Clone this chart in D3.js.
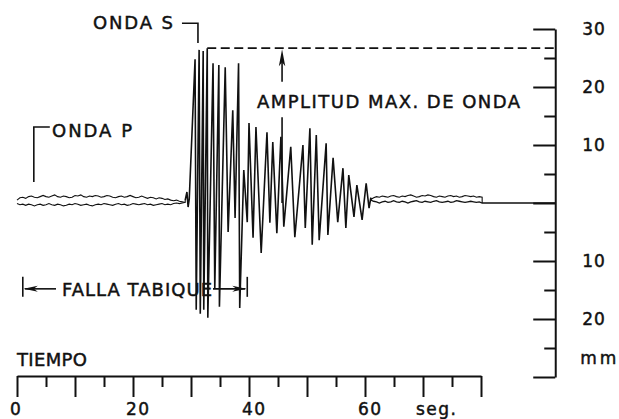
<!DOCTYPE html>
<html><head><meta charset="utf-8">
<script src="https://cdn.jsdelivr.net/npm/d3@7"></script>
<style>
body{margin:0;background:#fff}
svg{display:block}
text{font-family:"DejaVu Sans",sans-serif;fill:#111;stroke:#111;stroke-width:0.45px}
</style>
</head><body>
<svg id="c" width="619" height="419"></svg>
<script>
// ---------- DATA ----------
const ampTicksMajor = [30, 20, 10, 0, -10, -20, -30];
const ampTicksMinor = [25, 15, 5, -5, -15, -25];
const ampLabels = [30, 20, 10, -10, -20];
const timeTicksMajor = [0, 10, 20, 30, 40, 50, 60, 70, 80];
const timeTicksMinor = [5, 15, 25, 35, 45, 55, 65, 75];
const timeLabels = [0, 20, 40, 60, 70];           // 70 carries the unit "seg."
const timeLabelText = ["0", "20", "40", "60", "seg."];

// background noise before the S wave (mm), sampled evenly over preRange (s)
const preRange = [0, 29];
const preUpper = [0.5,0.9,1.0,0.8,1.1,1.2,1.0,0.9,1.1,1.3,1.1,1.0,1.2,1.4,1.1,1.0,1.2,1.1,0.9,1.0,
  1.3,1.2,1.4,1.1,1.0,1.2,1.1,1.3,1.2,1.0,1.1,1.3,1.2,1.0,0.9,1.1,1.2,1.0,1.1,1.3,
  1.1,0.9,1.0,1.2,1.0,0.8,1.0,0.9,0.7,0.9,0.8,0.6,0.7,0.5,0.4,0.5,0.3,0.2,0.1];
const preLower = [-0.1,-0.3,-0.2,-0.4,-0.2,-0.3,-0.5,-0.3,-0.2,-0.4,-0.3,-0.1,-0.3,-0.4,-0.2,-0.3,-0.5,-0.4,-0.2,-0.3,
  -0.1,-0.2,-0.4,-0.3,-0.2,-0.4,-0.5,-0.3,-0.2,-0.3,-0.1,-0.2,-0.3,-0.4,-0.2,-0.1,-0.3,-0.2,-0.4,-0.3,
  -0.1,-0.2,-0.3,-0.2,-0.1,-0.3,-0.2,-0.4,-0.3,-0.2,-0.1,-0.3,-0.2,-0.3,-0.1,0.0,-0.1,0.0,0.1];

// main oscillation: time (s) and amplitude (mm) of successive turning points
const waveT = [29.0,29.3,29.5,29.7,30.7,30.9,31.4,31.6,32.1,32.2,32.8,32.9,33.8,34.1,34.8,34.9,35.9,36.4,37.2,37.6,
  38.2,38.4,39.1,39.7,40.0,40.7,41.2,42.1,43.1,43.6,44.1,44.8,45.5,46.0,47.2,47.9,49.3,49.7,50.5,50.9,
  51.6,52.1,53.3,53.6,54.5,55.3,56.2,56.7,57.2,58.1,58.6,59.5,60.2,60.7,61.0];
const waveA = [0.5,1.9,-0.7,0.7,24.8,-18.4,26.4,-19.1,26.2,-18.4,26.7,-19.8,24.1,-14.7,23.8,-17.9,23.4,-5.0,16.0,-2.6,
  24.1,-18.1,5.7,-3.3,13.8,-6.0,13.1,-8.6,12.2,-3.4,10.5,-5.2,11.4,-4.1,9.7,-5.9,10.0,-4.3,12.9,-7.2,
  11.7,-6.4,10.3,-5.5,7.8,-3.3,6.0,-4.3,4.8,-2.4,3.1,-2.9,3.4,-0.9,0.9];

// background noise after the S wave
const postRange = [61.0, 80.2];
const postUpper = [0.6,0.9,1.1,1.0,1.2,1.1,1.0,1.2,1.3,1.1,1.0,1.2,1.1,1.3,1.4,1.2,1.0,1.1,1.3,1.2,
  1.4,1.3,1.1,1.0,1.2,1.1,1.0,1.2,1.3,1.1,1.2,1.0,1.1,1.3,1.2,1.1,1.2,1.0,1.1,1.0];
const postLower = [0.5,0.3,0.2,0.0,0.2,0.3,0.1,0.2,0.4,0.2,0.1,0.3,0.2,0.0,0.2,0.3,0.4,0.2,0.1,0.3,
  0.2,0.1,0.3,0.4,0.2,0.1,0.2,0.3,0.1,0.2,0.4,0.3,0.2,0.1,0.2,0.3,0.2,0.1,0.2,0.0];
const tailEnd = 92.8;          // trace runs flat to the amplitude scale

const maxAmp = 26.7, maxAmpT = 32.8;   // AMPLITUD MAX.
const arrowT = 45.7;
const ondaP = {t: 2.9, a0: 3.6, a1: 13.1};
const ondaS = {t: 31.2, a0: 27.6, a1: 31.0};
const falla = {t0: 1.0, t1: 39.7, a: -14.8};

// ---------- DRAW ----------
const svg = d3.select("#c");
const ink = "#111";
const x = d3.scaleLinear().domain([0, 80]).range([17, 481]);
const y = d3.scaleLinear().domain([-30, 30]).range([377, 29]);
const ax = x(tailEnd);

const line = d3.line().x(d => x(d[0])).y(d => y(d[1]));
const even = (arr, r) => arr.map((v, i) => [r[0] + i * (r[1] - r[0]) / (arr.length - 1), v]);

// noise traces
const pu = even(preUpper, preRange), pl = even(preLower, preRange);
const qu = even(postUpper, postRange), ql = even(postLower, postRange);
const wave = waveT.map((t, i) => [t, waveA[i]]);

svg.append("path").attr("d", line(pu)).attr("fill","none").attr("stroke",ink).attr("stroke-width",1.1);
svg.append("path").attr("d", line(pl.concat([wave[0]]))).attr("fill","none").attr("stroke",ink).attr("stroke-width",1.1);
svg.append("path").attr("d", line(wave)).attr("fill","none").attr("stroke",ink).attr("stroke-width",1.6).attr("stroke-linejoin","miter").attr("stroke-miterlimit",2);
svg.append("path").attr("d", line([wave[wave.length-1]].concat(qu, [ql[ql.length-1]]))).attr("fill","none").attr("stroke",ink).attr("stroke-width",1.1);
svg.append("path").attr("d", line([wave[wave.length-1]].concat(ql, [[tailEnd, 0]]))).attr("fill","none").attr("stroke",ink).attr("stroke-width",1.3);

// bottom time axis
const gx = svg.append("g").attr("transform", "translate(0,376)");
gx.call(d3.axisBottom(x).tickValues(timeTicksMajor).tickSize(21).tickSizeOuter(0).tickFormat(""));
gx.append("g").call(d3.axisBottom(x).tickValues(timeTicksMinor).tickSize(11).tickSizeOuter(0).tickFormat(""))
  .select(".domain").remove();
gx.selectAll("path,line").attr("stroke", ink).attr("stroke-width", 2);
gx.selectAll(".tlab").data(timeLabels).join("text").attr("class","tlab")
  .attr("text-anchor","start")
  .attr("x", d => x(d) - 7).attr("y", 39).attr("font-size", 17).attr("letter-spacing", 1.5)
  .text((d, i) => timeLabelText[i]);

// right amplitude axis
const gy = svg.append("g").attr("transform", `translate(${ax},0)`);
gy.call(d3.axisLeft(y).tickValues(ampTicksMajor).tickSize(22).tickSizeOuter(0).tickFormat(""));
gy.append("g").call(d3.axisLeft(y).tickValues(ampTicksMinor).tickSize(11).tickSizeOuter(0).tickFormat(""))
  .select(".domain").remove();
gy.selectAll("path,line").attr("stroke", ink).attr("stroke-width", 2);
gy.selectAll(".alab").data(ampLabels).join("text").attr("class","alab")
  .attr("text-anchor","start")
  .attr("x", 27).attr("y", d => y(d)).attr("dy", "0.36em").attr("font-size", 17).attr("letter-spacing", 1)
  .text(d => Math.abs(d));

function label(txt, x0, yb, len, size) {
  svg.append("text").attr("x", x0).attr("y", yb).attr("font-size", size || 18)
    .attr("text-anchor","start")
    .attr("textLength", len).attr("lengthAdjust", "spacing").text(txt);
}
label("mm", ax + 25, 364, 36, 17);
label("TIEMPO", 17, 366, 70);
label("ONDA P", 52, 136.5, 80);
label("ONDA S", 93, 28.5, 80);
label("AMPLITUD MAX. DE ONDA", 257, 108, 263);
label("FALLA TABIQUE", 62, 295.5, 150);

const stroke = sel => sel.attr("fill","none").attr("stroke",ink).attr("stroke-width",1.6);

// ONDA P bracket
stroke(svg.append("path").attr("d", `M${x(ondaP.t)},${y(ondaP.a0)}V${y(ondaP.a1)}H${x(ondaP.t)+16}`));
// ONDA S bracket
stroke(svg.append("path").attr("d", `M${x(ondaS.t)-16},${y(ondaS.a1)}H${x(ondaS.t)}V${y(ondaS.a0)}`));

// max amplitude dashed line
svg.append("line").attr("x1", x(maxAmpT)).attr("x2", ax).attr("y1", y(maxAmp)).attr("y2", y(maxAmp))
  .attr("stroke", ink).attr("stroke-width", 1.6).attr("stroke-dasharray", "9,4.5");

// arrow to max amplitude
const axx = x(arrowT), tip = y(maxAmp) + 1;
stroke(svg.append("line").attr("x1", axx).attr("x2", axx).attr("y1", tip + 10).attr("y2", y(20.9)));
svg.append("path").attr("d", `M${axx},${tip}L${axx-3.2},${tip+17}L${axx},${tip+13}L${axx+3.2},${tip+17}Z`).attr("fill", ink);
stroke(svg.append("line").attr("x1", axx).attr("x2", axx).attr("y1", y(14.8)).attr("y2", y(0)));

// FALLA TABIQUE dimension
const fy = y(falla.a), fx0 = x(falla.t0), fx1 = x(falla.t1);
stroke(svg.append("line").attr("x1", fx0).attr("x2", fx0).attr("y1", fy - 12).attr("y2", fy + 8));
stroke(svg.append("line").attr("x1", fx1).attr("x2", fx1).attr("y1", fy - 12).attr("y2", fy + 8));
stroke(svg.append("line").attr("x1", fx0 + 2).attr("x2", 56).attr("y1", fy).attr("y2", fy));
stroke(svg.append("line").attr("x1", 213).attr("x2", fx1 - 2).attr("y1", fy).attr("y2", fy));
svg.append("path").attr("d", `M${fx0+1},${fy}L${fx0+15},${fy-3}L${fx0+11},${fy}L${fx0+15},${fy+3}Z`).attr("fill", ink);
svg.append("path").attr("d", `M${fx1-1},${fy}L${fx1-15},${fy-3}L${fx1-11},${fy}L${fx1-15},${fy+3}Z`).attr("fill", ink);
</script>
</body></html>
